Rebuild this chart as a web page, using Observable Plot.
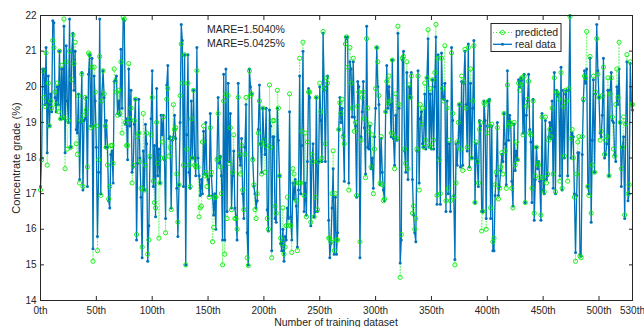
<!DOCTYPE html>
<html><head><meta charset="utf-8">
<script src="https://cdn.jsdelivr.net/npm/d3@7"></script>
<script src="https://cdn.jsdelivr.net/npm/@observablehq/plot@0.6"></script>
<style>body{margin:0;background:#fff;} #chart{width:644px;height:327px;overflow:hidden}</style>
</head><body><div id="chart"></div>
<script>
const realData = [
17.2,18.0,20.5,20.5,19.5,21.1,18.15,20.3,18.9,19.8,
19.3,21.85,21.8,19.7,19.3,20.0,19.5,21.0,19.1,20.5,
19.1,21.7,18.15,21.15,19.6,19.0,21.9,18.3,21.0,21.5,
19.9,21.0,18.8,18.7,19.8,17.4,19.0,20.4,17.1,19.05,
19.1,19.7,17.2,20.35,20.9,18.9,20.8,15.45,20.3,19.6,
18.3,15.8,17.6,21.9,17.0,19.8,20.45,19.7,18.3,19.05,
18.3,16.8,16.6,18.1,18.2,17.3,20.15,20.2,20.3,19.25,
19.6,19.2,21.05,19.4,21.9,21.85,18.95,19.1,17.95,20.5,
18.9,19.9,17.6,17.75,18.95,19.65,15.7,17.85,19.65,18.0,
16.9,15.2,18.2,17.1,18.95,18.4,15.1,16.1,18.0,19.1,
20.45,17.2,18.35,16.35,19.95,17.5,18.25,17.3,19.2,18.65,
19.2,17.95,16.3,20.05,20.6,18.55,18.6,16.6,18.5,18.6,
19.2,18.55,17.15,15.8,17.25,19.0,21.75,21.3,17.2,20.9,
15.0,18.65,20.9,17.6,17.15,19.6,18.0,19.9,18.0,17.5,
21.1,18.0,17.5,16.95,17.4,17.0,18.75,17.55,19.0,17.5,
17.4,16.95,19.25,17.5,16.95,16.4,17.0,16.0,18.0,19.7,
17.85,18.05,17.5,15.7,20.35,15.7,20.5,16.5,20.1,17.9,
19.25,16.6,17.5,18.2,16.6,16.35,15.7,20.1,18.05,17.8,
18.55,17.0,16.3,18.3,19.5,15.9,15.0,20.5,20.0,19.8,
18.0,17.2,17.0,16.6,16.8,18.8,20.05,18.4,17.6,19.4,
18.55,18.1,19.4,16.55,15.95,19.35,18.9,15.4,18.6,18.6,
16.3,16.2,19.4,18.5,17.5,15.6,15.4,16.0,15.1,15.8,
15.7,16.6,16.3,19.3,16.35,15.7,17.3,16.85,17.4,16.65,
15.5,17.1,20.3,17.0,18.35,21.0,16.5,17.3,16.4,17.9,
19.95,19.7,16.1,17.9,18.4,16.35,16.5,19.7,16.5,17.9,
20.0,19.05,17.9,21.5,19.9,17.9,20.0,20.3,16.25,15.2,
15.6,16.6,17.7,15.3,16.9,15.3,15.9,18.8,19.7,19.0,
19.4,18.65,17.35,21.4,21.35,21.4,17.3,20.7,20.5,19.15,
20.7,19.15,18.9,16.9,20.15,20.0,15.2,18.6,19.3,20.15,
18.85,17.55,21.7,18.3,18.25,18.9,17.7,18.0,17.15,18.6,
19.4,21.1,20.0,19.5,17.25,18.55,17.6,17.1,16.8,19.3,
20.6,19.4,20.0,19.5,18.6,20.75,18.55,17.8,19.2,18.5,
21.5,19.4,15.05,15.7,20.75,21.0,18.2,17.6,20.4,17.4,
20.0,19.7,20.4,17.4,16.4,15.9,15.65,18.2,20.45,17.3,
19.1,19.3,18.4,18.3,19.8,18.25,20.25,21.35,18.3,19.8,
18.25,20.2,18.25,20.0,21.4,16.7,20.9,18.0,16.7,20.95,
19.7,19.65,20.1,16.5,19.6,17.0,18.4,16.5,21.1,19.05,
16.95,15.15,18.4,17.8,18.45,19.5,17.75,20.15,17.8,20.1,
21.0,19.5,18.2,21.2,17.75,20.1,18.0,19.4,21.3,16.75,
18.4,17.9,17.2,19.05,18.9,16.5,16.5,19.6,19.05,16.3,
18.9,19.6,19.65,16.3,18.9,15.4,15.4,16.95,17.5,19.0,
16.95,17.2,17.65,18.1,17.9,19.25,18.4,17.25,20.45,18.5,
19.2,19.0,17.35,16.65,18.95,17.65,18.2,17.95,20.2,20.0,
20.25,20.2,18.7,20.35,16.75,19.2,19.6,20.35,18.8,18.45,
16.75,19.65,16.25,17.4,18.3,17.7,17.9,17.35,16.25,19.25,
17.1,17.0,19.05,17.4,17.5,18.6,19.0,18.55,19.6,17.15,
20.4,17.0,19.9,19.75,19.8,17.5,20.55,17.1,19.9,18.0,
19.8,19.9,17.5,19.9,22.0,18.0,18.7,18.6,17.0,15.35,
16.95,18.15,18.15,15.3,15.25,18.1,19.6,20.45,20.1,20.5,
17.2,17.0,20.8,16.2,18.5,20.2,17.6,19.8,21.75,20.45,
19.7,18.7,18.6,19.2,20.8,18.0,18.1,18.4,19.9,17.5,
19.9,20.4,19.05,19.0,18.1,17.9,20.0,19.5,20.5,19.0,
17.2,18.3,18.6,16.3,19.0,20.7,16.8,17.0,20.65,19.5,
19.35
];
const predicted = [
17.1,17.95,20.45,19.7,19.45,20.95,17.8,20.1,18.9,19.6,
19.4,21.3,21.1,19.85,19.5,20.1,19.3,21.0,19.1,20.6,
19.15,21.9,17.7,20.7,18.25,19.05,21.0,18.3,20.2,21.45,
20.65,21.25,18.4,18.1,19.75,17.3,19.05,20.35,17.2,19.2,
19.7,19.35,17.75,20.95,20.9,18.85,20.55,15.1,20.55,19.85,
18.9,15.4,17.95,20.85,16.95,19.6,20.45,19.8,18.9,18.3,
17.8,16.85,17.2,18.35,18.35,17.85,20.5,20.15,19.85,19.2,
19.9,19.25,20.7,18.7,21.95,21.9,19.0,18.35,18.35,20.65,
19.1,19.4,17.3,17.8,19.05,19.65,15.85,18.6,18.7,17.9,
17.15,15.5,19.25,17.1,17.8,18.7,15.3,15.7,18.05,18.65,
19.7,17.35,16.75,16.6,19.0,17.85,15.75,17.3,18.0,18.45,
19.15,18.0,15.9,19.65,19.95,18.05,18.3,16.55,18.55,19.5,
18.8,18.85,17.55,16.2,17.25,19.75,21.2,20.1,17.8,20.9,
15.0,18.25,20.1,17.8,17.2,19.1,18.0,19.9,17.8,17.75,
20.45,17.75,16.35,16.6,16.65,18.45,18.9,17.5,17.6,17.2,
17.5,16.9,18.85,17.6,15.65,16.05,16.9,16.9,17.95,19.25,
18.0,17.75,17.0,15.0,19.6,15.3,19.8,16.3,19.75,17.85,
18.85,16.55,17.6,18.65,16.3,16.3,16.0,19.7,18.1,17.55,
18.35,17.1,16.55,18.1,19.7,15.2,14.98,20.45,19.75,19.8,
17.95,17.25,16.55,16.3,17.0,18.7,19.6,18.4,17.55,19.4,
18.5,17.6,18.35,16.3,16.0,20.05,18.3,15.2,19.05,19.05,
16.65,16.45,19.9,19.4,17.5,15.75,15.6,16.6,15.3,15.5,
16.1,16.9,16.1,19.8,16.1,15.35,17.7,17.55,17.3,16.8,
15.4,17.3,20.8,17.3,18.75,21.25,16.95,18.7,16.35,18.45,
19.85,19.85,16.2,18.1,17.9,16.35,16.9,19.7,16.55,17.9,
20.1,19.3,18.0,21.55,19.95,18.4,20.25,20.1,15.75,15.75,
15.65,17.0,18.2,15.4,17.0,15.7,15.7,18.8,19.55,19.25,
19.65,18.6,18.4,21.2,21.4,20.55,17.1,21.1,20.1,19.4,
20.8,18.75,19.0,16.95,19.45,19.85,15.65,18.5,19.7,19.85,
19.1,17.45,21.35,19.4,18.75,18.95,17.75,18.65,17.0,18.25,
19.95,21.1,20.7,19.75,17.3,18.6,17.25,16.8,16.85,19.3,
20.15,19.55,20.3,19.6,18.7,20.75,18.65,17.7,19.8,18.55,
21.7,19.5,14.65,15.85,20.8,20.85,18.25,17.85,20.7,17.7,
20.05,19.7,20.3,16.45,16.65,16.0,16.3,18.25,20.3,17.1,
19.5,18.95,19.4,18.3,20.1,18.5,20.25,21.6,18.35,19.95,
18.3,20.2,18.5,20.4,21.75,16.95,20.8,17.95,17.0,20.8,
19.95,19.6,21.15,16.8,19.4,17.15,18.5,16.8,20.95,19.25,
16.9,15.0,17.3,18.45,19.0,19.5,18.25,20.3,17.65,20.15,
21.05,19.4,18.3,21.1,17.7,20.5,18.0,19.6,21.15,16.75,
18.45,17.9,17.3,18.8,19.0,15.95,16.5,19.55,19.5,16.0,
18.7,19.6,18.9,16.6,18.95,15.65,15.75,17.25,17.6,18.85,
16.85,17.15,17.75,18.15,17.55,19.25,18.2,17.15,20.05,18.9,
19.0,18.95,17.15,16.6,19.0,17.8,18.45,17.95,20.1,19.9,
20.05,20.25,18.65,20.3,16.75,19.45,19.65,20.15,18.7,18.65,
17.15,19.6,16.45,17.5,18.3,17.85,17.8,17.45,16.4,19.15,
17.45,17.05,19.15,17.3,17.55,18.5,18.8,18.6,19.4,17.55,
20.25,17.05,19.85,19.8,19.65,17.35,20.4,17.15,19.45,18.05,
19.9,19.6,17.35,19.95,21.97,18.55,18.8,18.0,16.9,15.1,
17.55,18.45,18.6,15.25,15.2,18.6,19.65,20.3,20.25,21.55,
17.2,16.95,20.85,16.45,17.8,20.3,17.6,19.85,21.35,20.35,
19.7,18.5,18.75,19.75,20.55,18.1,18.5,18.6,20.25,17.5,
19.8,20.25,19.15,18.25,18.05,19.5,20.5,19.7,21.25,19.0,
17.7,18.3,19.15,16.4,18.95,20.9,17.0,17.25,20.7,19.5,
19.5
];
const xTicks = [0,50,100,150,200,250,300,350,400,450,500,530];
const yTicks = [14,15,16,17,18,19,20,21,22];
const mareTexts = ["MARE=1.5040%","MARE=5.0425%"];
const legendLabels = ["predicted","real data"];
const xLabel = "Number of training dataset";
const yLabel = "Concentrate grade (%)";

const BLUE = "#0072BD", GREEN = "#00ee00", INK = "#262626";
const FONT = '"Liberation Sans", Arial, Helvetica, sans-serif';
const rows = realData.map((v,i)=>({i, real:v, pred:predicted[i]}));

const svg = Plot.plot({
  width:644, height:327, marginLeft:40, marginRight:12, marginTop:15, marginBottom:27,
  style:{fontFamily:FONT, fontSize:"10px", color:INK, background:"#fff"},
  x:{domain:[0,530]}, y:{domain:[14,22]},
  marks:[
    Plot.line(rows,{x:"i",y:"pred",stroke:GREEN,strokeWidth:0.7,strokeDasharray:"1,2",strokeOpacity:0.6}),
    Plot.line(rows,{x:"i",y:"real",stroke:BLUE,strokeWidth:1.3}),
    Plot.dot(rows,{x:"i",y:"real",r:1.5,fill:BLUE}),
    Plot.dot(rows,{x:"i",y:"pred",r:2.1,stroke:GREEN,strokeWidth:0.9,fill:"none"}),
    Plot.frame({stroke:INK, strokeWidth:1}),
    Plot.axisX({anchor:"bottom", ticks:xTicks, tickFormat:d=>d+"th", tickSize:-4, tickPadding:10, label:null}),
    Plot.axisX({anchor:"top", ticks:xTicks, tickFormat:()=>"", tickSize:-4, label:null}),
    Plot.axisY({anchor:"left", ticks:yTicks, tickFormat:d=>String(d), tickSize:-4, tickPadding:8, label:null}),
    Plot.axisY({anchor:"right", ticks:yTicks, tickFormat:()=>"", tickSize:-4, label:null})
  ]
});
document.getElementById("chart").appendChild(svg);

const s = d3.select(svg);
const g = s.append("g").attr("font-family", FONT).attr("fill", INK).attr("text-anchor","start");
g.append("text").attr("x",336).attr("y",325.5).attr("text-anchor","middle").attr("font-size","10.5px").text(xLabel);
g.append("text").attr("transform","translate(16,158) rotate(-90)").attr("text-anchor","middle").attr("dy","0.35em").attr("font-size","11px").text(yLabel);
mareTexts.forEach((t,k)=>{
  g.append("text").attr("x",207).attr("y",33+k*13.5).attr("text-anchor","start").attr("font-size","10.5px").text(t);
});
// legend
const lg = s.append("g").attr("font-family", FONT).attr("text-anchor","start");
lg.append("rect").attr("x",491).attr("y",23.5).attr("width",70).attr("height",28).attr("fill","#fff").attr("stroke",INK).attr("stroke-width",1);
lg.append("line").attr("x1",493).attr("x2",512).attr("y1",32.5).attr("y2",32.5).attr("stroke",GREEN).attr("stroke-dasharray","1,2").attr("stroke-width",0.8);
lg.append("circle").attr("cx",502.5).attr("cy",32.5).attr("r",2.1).attr("fill","none").attr("stroke",GREEN).attr("stroke-width",0.9);
lg.append("line").attr("x1",493).attr("x2",512).attr("y1",44.3).attr("y2",44.3).attr("stroke",BLUE).attr("stroke-width",1.3);
lg.append("circle").attr("cx",502.5).attr("cy",44.3).attr("r",1.5).attr("fill",BLUE);
legendLabels.forEach((t,k)=>{
  lg.append("text").attr("x",515).attr("y",35.8+k*12).attr("text-anchor","start").attr("font-size","10.5px").attr("fill",INK).text(t);
});
</script></body></html>
